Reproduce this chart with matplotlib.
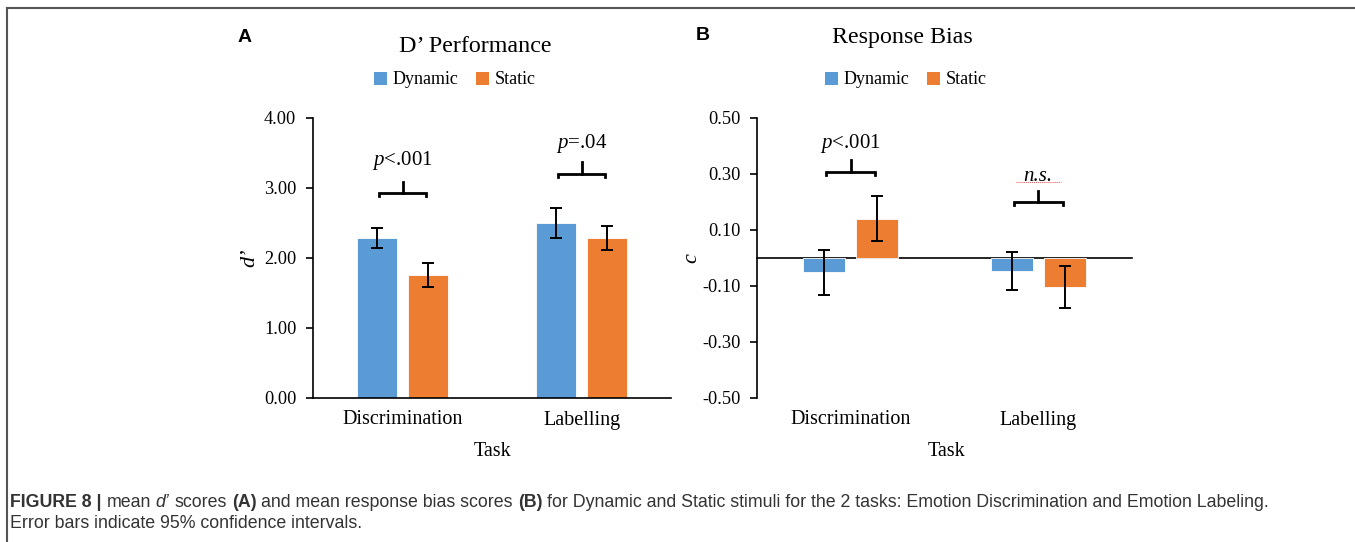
import numpy as np
import matplotlib
matplotlib.use("Agg")
import matplotlib.pyplot as plt
from matplotlib.ticker import FuncFormatter, MultipleLocator
from matplotlib.lines import Line2D
from matplotlib.patches import Patch

plt.rcParams['font.family'] = ['Liberation Serif', 'DejaVu Serif']
plt.rcParams['mathtext.fontset'] = 'custom'
plt.rcParams['mathtext.rm'] = 'Liberation Serif'
plt.rcParams['mathtext.it'] = 'Liberation Serif:italic'

# data
tasks = ["Discrimination", "Labelling"]
conds = ["Dynamic", "Static"]
colors = {"Dynamic": "#5B9BD5", "Static": "#ED7D31"}

dprime = {"Dynamic": [2.29, 2.50], "Static": [1.76, 2.29]}
dprime_lo = {"Dynamic": [2.14, 2.29], "Static": [1.59, 2.11]}
dprime_hi = {"Dynamic": [2.43, 2.71], "Static": [1.93, 2.46]}

bias = {"Dynamic": [-0.050, -0.046], "Static": [0.139, -0.103]}
bias_lo = {"Dynamic": [-0.132, -0.114], "Static": [0.061, -0.178]}
bias_hi = {"Dynamic": [0.029, 0.021], "Static": [0.221, -0.028]}

# significance labels: (text, bracket level, stem top, text y)
sig_a = [("$p$<.001", 2.93, 3.09, 3.40), ("$p$=.04", 3.20, 3.37, 3.64)]
sig_b = [("$p$<.001", 0.307, 0.35, 0.41), ("n.s.", 0.20, 0.24, 0.29)]

W, H = 1355, 542
fig = plt.figure(figsize=(W / 100, H / 100), dpi=100)

def fx(px):
    return px / W

def fy(py):
    return 1 - py / H

axA = fig.add_axes([fx(313), fy(398), fx(671 - 313), (398 - 118) / H])
axB = fig.add_axes([fx(757), fy(398), fx(1132 - 757), (398 - 118) / H])

x = np.arange(len(tasks))
bw = 0.224
off = {"Dynamic": -0.142, "Static": 0.142}


def draw_bars(ax, vals, lo, hi):
    for c in conds:
        v = np.array(vals[c])
        err = [v - np.array(lo[c]), np.array(hi[c]) - v]
        ax.bar(x + off[c], v, bw, color=colors[c], edgecolor="white", linewidth=0.6, zorder=2)
        ax.errorbar(x + off[c], v, yerr=err, fmt="none", ecolor="black",
                    elinewidth=1.4, capsize=4, capthick=1.4, zorder=3)


def draw_sig(ax, sigs, drop, fs):
    for i, (txt, lvl, top, ty) in enumerate(sigs):
        x0, x1 = i - 0.13, i + 0.13
        ax.plot([x0, x0, x1, x1], [lvl - drop, lvl, lvl, lvl - drop], color="black", lw=2,
                solid_joinstyle="miter", zorder=3)
        ax.plot([i, i], [lvl, top], color="black", lw=2, zorder=3)
        style = "italic" if txt == "n.s." else "normal"
        ax.text(i, ty, txt, ha="center", va="center", fontsize=fs, style=style)


def style_axis(ax):
    ax.set_xlim(-0.5, 1.5)
    ax.set_xticks(x)
    ax.set_xticklabels(tasks, fontsize=14.5)
    ax.tick_params(axis="x", length=0, pad=9)
    ax.tick_params(axis="y", direction="out", length=5, width=1.2, labelsize=13.2, pad=7)
    ax.yaxis.set_major_formatter(FuncFormatter(lambda v, p: f"{v:.2f}"))
    for s in ["top", "right"]:
        ax.spines[s].set_visible(False)
    ax.spines["left"].set_linewidth(1.2)
    ax.spines["bottom"].set_linewidth(1.2)


# panel A
draw_bars(axA, dprime, dprime_lo, dprime_hi)
draw_sig(axA, sig_a, 0.05, 15)
axA.set_ylim(0, 4)
axA.yaxis.set_major_locator(MultipleLocator(1.0))
style_axis(axA)

# panel B
draw_bars(axB, bias, bias_lo, bias_hi)
draw_sig(axB, sig_b, 0.012, 15)
axB.axhline(0, color="black", lw=1.2, zorder=1, clip_on=False)
axB.plot([0.88, 1.12], [0.272, 0.272], color="#e05050", lw=0.7, ls=(0, (1, 1)))
axB.set_ylim(-0.5, 0.5)
axB.set_yticks([-0.5, -0.3, -0.1, 0.1, 0.3, 0.5])
style_axis(axB)
axB.spines["bottom"].set_visible(False)

# titles, legends, labels
fig.text(fx(475), fy(47), "D\u2019 Performance", ha="center", va="center", fontsize=17.3)
fig.text(fx(902), fy(37), "Response Bias", ha="center", va="center", fontsize=17.3)
fig.text(fx(245), fy(37), "A", ha="center", va="center", fontsize=14,
         family="Liberation Sans", weight="bold")
fig.text(fx(703), fy(36), "B", ha="center", va="center", fontsize=14,
         family="Liberation Sans", weight="bold")

handles = [Patch(facecolor=colors[c], label=c) for c in conds]
for cx in (455, 906):
    fig.legend(handles=handles, loc="center", bbox_to_anchor=(fx(cx), fy(80)), ncol=2,
               frameon=False, fontsize=13, handlelength=0.7, handleheight=0.7,
               handletextpad=0.3, columnspacing=1.0, borderaxespad=0)

fig.text(fx(250), fy(258), "d\u2019", rotation=90, ha="center", va="center",
         fontsize=16, style="italic")
fig.text(fx(692), fy(258), "c", rotation=90, ha="center", va="center",
         fontsize=16, style="italic")
fig.text(fx(493), fy(452), "Task", ha="center", va="center", fontsize=14.5)
fig.text(fx(946), fy(452), "Task", ha="center", va="center", fontsize=14.5)

# frame lines
fig.add_artist(Line2D([fx(7), fx(7)], [fy(8), 0], color="#555555", lw=1.5))
fig.add_artist(Line2D([fx(7), 1], [fy(8), fy(8)], color="#555555", lw=1.5))

# caption with mixed styles
cap_fs = 12.8
cap_kw = dict(family=["Liberation Sans", "DejaVu Sans"], fontsize=cap_fs, color="#333333",
              va="baseline")
runs = [("FIGURE 8 |", "bold", "normal"), ("mean", "normal", "normal"),
        ("d\u2019", "normal", "italic"), ("scores", "normal", "normal"),
        ("(A)", "bold", "normal"), ("and mean response bias scores", "normal", "normal"),
        ("(B)", "bold", "normal"),
        ("for Dynamic and Static stimuli for the 2 tasks: Emotion Discrimination and Emotion Labeling.",
         "normal", "normal")]
renderer = fig.canvas.get_renderer()
space = cap_fs * 100 / 72 * 0.278 / W
cx = fx(10)
for s, w, st in runs:
    t = fig.text(cx, fy(507), s, weight=w, style=st, **cap_kw)
    bb = t.get_window_extent(renderer=renderer)
    cx = bb.x1 / W + space
fig.text(fx(10), fy(528), "Error bars indicate 95% confidence intervals.", **cap_kw)

fig.savefig("out.png", dpi=100)
